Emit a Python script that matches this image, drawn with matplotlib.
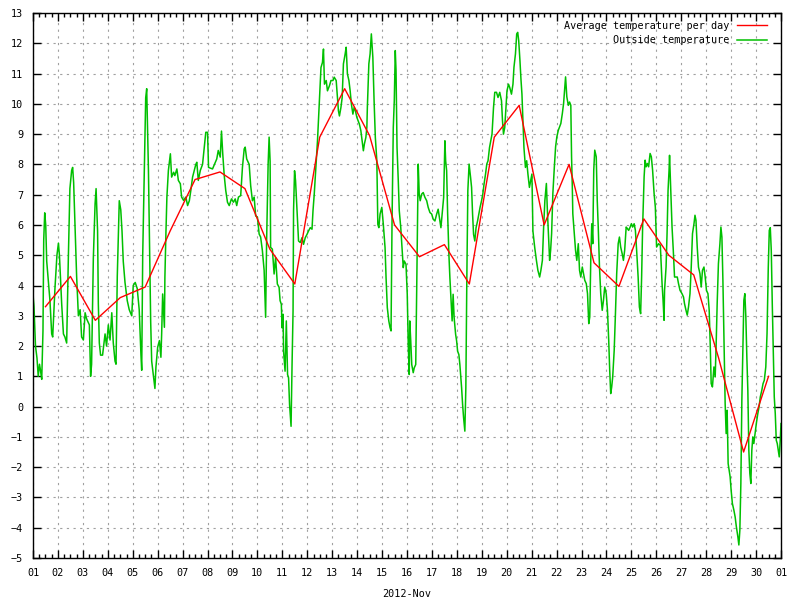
import matplotlib
matplotlib.use('Agg')
import matplotlib.pyplot as plt
from matplotlib.ticker import MultipleLocator

# time in days since 2012-11-01 00:00
outside_t = [
    0.00, 0.04, 0.10, 0.16, 0.21, 0.26, 0.30, 0.35, 0.40, 0.43, 0.47, 0.51, 0.55, 0.61, 0.68, 0.75,
    0.79, 0.88, 0.96, 1.02, 1.06, 1.15, 1.22, 1.28, 1.35, 1.42, 1.48, 1.55, 1.59, 1.63, 1.68, 1.75,
    1.82, 1.89, 1.95, 2.02, 2.09, 2.15, 2.26, 2.31, 2.35, 2.42, 2.49, 2.53, 2.59, 2.62, 2.66, 2.71,
    2.79, 2.89, 2.95, 3.02, 3.09, 3.16, 3.22, 3.29, 3.33, 3.38, 3.46, 3.52, 3.57, 3.62, 3.69, 3.78,
    3.86, 3.96, 4.02, 4.10, 4.18, 4.26, 4.33, 4.36, 4.40, 4.47, 4.52, 4.56, 4.63, 4.67, 4.72, 4.76,
    4.83, 4.89,
    4.93, 5.00, 5.07, 5.13, 5.16, 5.20, 5.27, 5.29, 5.33, 5.37, 5.43, 5.51, 5.56, 5.64, 5.69, 5.77,
    5.83, 5.91, 5.96, 6.04, 6.13, 6.20, 6.27, 6.33, 6.40, 6.47, 6.53, 6.57, 6.63, 6.71, 6.80, 6.87,
    6.93, 7.00, 7.04, 7.20, 7.37, 7.43, 7.51, 7.56, 7.61, 7.67, 7.73, 7.80, 7.87, 7.96, 8.04, 8.11,
    8.17, 8.24, 8.33, 8.40, 8.47, 8.51, 8.57, 8.67, 8.73, 8.80, 8.87, 8.93, 9.00, 9.07, 9.13, 9.20,
    9.27, 9.33, 9.37, 9.43, 9.47, 9.51, 9.53, 9.60, 9.67, 9.73, 9.80, 9.87, 9.91,
    9.96, 9.99, 10.03, 10.05, 10.11, 10.16, 10.19, 10.21, 10.25, 10.29, 10.35, 10.39, 10.43, 10.45,
    10.49, 10.53, 10.59, 10.65, 10.72, 10.79, 10.85, 10.92, 10.99, 11.05, 11.12, 11.19, 11.23, 11.28,
    11.35, 11.41, 11.48, 11.55, 11.61, 11.65, 11.69, 11.76, 11.81, 11.89, 11.95, 12.03, 12.08, 12.16,
    12.21, 12.25, 12.29, 12.35, 12.40, 12.45, 12.52, 12.56, 12.61, 12.67, 12.72, 12.77, 12.83, 12.88,
    12.93, 12.99, 13.04, 13.09, 13.15, 13.20, 13.25, 13.29, 13.35, 13.39, 13.41, 13.47, 13.52, 13.57,
    13.63, 13.68, 13.73, 13.79, 13.83, 13.87, 13.92, 13.99, 14.05, 14.12, 14.16, 14.21, 14.27, 14.32,
    14.36, 14.40, 14.45, 14.49, 14.53, 14.56, 14.60, 14.65, 14.69, 14.75, 14.80, 14.85, 14.89, 14.96,
    15.01, 15.05, 15.09,
    15.11, 15.15, 15.19, 15.25, 15.29, 15.35, 15.39, 15.43, 15.45, 15.49, 15.53, 15.59, 15.65, 15.72,
    15.79, 15.85, 15.92, 15.99, 16.05, 16.12, 16.19, 16.25, 16.32, 16.36, 16.41, 16.47, 16.52, 16.55,
    16.59, 16.63, 16.68, 16.72, 16.76, 16.81, 16.85, 16.89, 16.95, 16.99, 17.03, 17.08, 17.12, 17.19,
    17.23, 17.27, 17.32, 17.36, 17.40, 17.44, 17.49, 17.55, 17.59, 17.63, 17.67, 17.72, 17.77, 17.83,
    17.88, 17.93, 17.99, 18.04, 18.09, 18.15, 18.20, 18.25, 18.31, 18.36, 18.41, 18.47, 18.52, 18.59,
    18.65, 18.72, 18.79, 18.83, 18.87, 18.92, 18.96, 19.01, 19.07, 19.12, 19.19, 19.25, 19.29, 19.35,
    19.40, 19.44, 19.48, 19.53, 19.57, 19.61, 19.65, 19.69, 19.75, 19.80, 19.85, 19.91, 19.96, 20.01,
    20.05,
    20.12, 20.19, 20.25, 20.32, 20.37, 20.43, 20.48, 20.53, 20.59, 20.63, 20.67, 20.72, 20.76, 20.80,
    20.85, 20.91, 20.96, 21.01, 21.07, 21.12, 21.17, 21.23, 21.28, 21.32, 21.36, 21.41, 21.47, 21.52,
    21.57, 21.60, 21.63, 21.65, 21.71, 21.76, 21.81, 21.87, 21.92, 21.97, 22.03, 22.08, 22.13, 22.19,
    22.24, 22.29, 22.33, 22.37, 22.41, 22.45, 22.49, 22.53, 22.59, 22.63, 22.67, 22.72, 22.77, 22.83,
    22.88, 22.93, 22.99, 23.04, 23.09, 23.13, 23.17, 23.21, 23.25, 23.31, 23.36, 23.41, 23.47, 23.52,
    23.57, 23.63, 23.68, 23.73, 23.79, 23.84, 23.89, 23.95, 24.00, 24.05, 24.11, 24.16, 24.21, 24.27,
    24.32, 24.37, 24.41, 24.45, 24.51, 24.55, 24.59, 24.64, 24.69, 24.75, 24.80, 24.85, 24.91, 24.96,
    25.01,
    25.09, 25.16, 25.23, 25.27, 25.31, 25.33, 25.39, 25.43, 25.47, 25.51, 25.53, 25.57, 25.63, 25.68,
    25.73, 25.79, 25.84, 25.89, 25.95, 26.03, 26.09, 26.13, 26.19, 26.24, 26.29, 26.35, 26.40, 26.45,
    26.51, 26.55, 26.59, 26.64, 26.69, 26.75, 26.80, 26.85, 26.91, 26.96, 27.01, 27.07, 27.12, 27.16,
    27.20, 27.25, 27.31, 27.36, 27.40, 27.44, 27.49, 27.55, 27.59, 27.63, 27.67, 27.71, 27.76, 27.80,
    27.84, 27.88, 27.92, 27.96, 28.00, 28.05, 28.11, 28.16, 28.21, 28.27, 28.31, 28.35, 28.39, 28.43,
    28.47, 28.51, 28.55, 28.59, 28.63, 28.67, 28.71, 28.75, 28.79, 28.83, 28.87, 28.91, 28.96, 29.01,
    29.07, 29.12, 29.17, 29.23, 29.28, 29.33, 29.39, 29.44, 29.49, 29.53, 29.57, 29.61, 29.65, 29.69,
    29.73, 29.77, 29.81, 29.85, 29.89, 29.93, 29.97, 30.00,
]

outside_temp = [
    3.7, 3.3, 2.0, 1.6, 1.0, 1.4, 1.2, 0.9, 2.5, 5.5, 6.4, 6.0, 4.8, 4.2, 3.5, 2.4,
    2.3, 3.9, 5.0, 5.4, 5.0, 3.4, 2.4, 2.3, 2.1, 5.0, 7.2, 7.8, 7.9, 7.4, 6.1, 4.3,
    3.0, 3.2, 2.3, 2.2, 3.1, 2.9, 2.7, 1.0, 1.4, 4.9, 6.7, 7.2, 5.8, 3.4, 2.1, 1.7,
    1.7, 2.4, 2.0, 2.7, 2.2, 3.1, 2.1, 1.5, 1.4, 4.3, 6.8, 6.5, 5.8, 4.8, 4.1, 3.5,
    3.2, 3.0, 4.0, 4.1, 3.9, 3.2, 1.7, 1.2, 5.0, 8.1, 10.2, 10.5, 7.8, 5.6, 2.8, 1.5,
    1.0, 0.6,
    1.3, 1.96, 2.18, 1.63, 2.4, 3.72, 2.62, 4.27, 5.7, 6.92, 7.8, 8.35, 7.58, 7.74, 7.63, 7.85,
    7.47, 7.36, 6.92, 6.81, 6.92, 6.64, 6.8, 7.14, 7.58, 7.8, 8.0, 8.07, 7.47, 7.8, 8.0, 8.57,
    9.06, 9.06, 7.9, 7.85, 8.18, 8.46, 8.24, 9.1, 8.35, 7.63, 7.14, 6.75, 6.64, 6.86, 6.75, 6.86,
    6.64, 6.92, 6.97, 7.9, 8.51, 8.57, 8.18, 8.0, 7.3, 6.8, 6.92, 6.3, 6.26, 5.7, 5.6, 5.15,
    4.5, 2.95, 5.5, 8.0, 8.9, 8.1, 5.26, 5.2, 4.38, 4.93, 4.05, 3.94, 3.5,
    3.38, 2.6, 3.05, 1.83, 1.17, 2.83, 1.72, 1.06, 0.95, 0.07, -0.65, 1.39, 3.16, 6.47,
    7.79, 7.46, 6.47, 5.47, 5.42, 5.58, 5.36, 5.58, 5.69, 5.8, 5.91, 5.86, 6.47, 7.02,
    8.0, 8.78, 9.99, 11.2, 11.37, 11.81, 10.65, 10.77, 10.43, 10.6, 10.77, 10.77, 10.88, 10.77,
    10.21, 9.77, 9.6, 9.88, 10.21, 11.32, 11.65, 11.87, 10.99, 10.77, 10.43, 9.99, 9.66, 9.88,
    9.77, 9.55, 9.44, 9.33, 9.11, 8.78, 8.45, 8.67, 8.89, 9.22, 9.88, 11.32, 11.65, 12.31,
    11.54, 10.1, 8.89, 8.12, 6.02, 5.91, 6.36, 6.58, 6.02, 5.25, 4.26, 3.27, 2.83, 2.61,
    2.5, 6.13, 9.22, 10.1, 11.76, 11.1, 8.56, 7.46, 6.47, 5.91, 5.25, 4.59, 4.81, 4.7,
    3.71, 2.06, 1.06,
    2.83, 2.17, 1.39, 1.12, 1.28, 1.39, 3.93, 6.8, 8.01, 7.02, 6.8, 7.02, 7.07, 6.91,
    6.8, 6.58, 6.41, 6.36, 6.19, 6.13, 6.36, 6.52, 6.13, 5.91, 6.36, 6.91, 8.78, 8.12,
    7.79, 6.36, 5.03, 4.26, 3.6, 2.83, 3.71, 2.94, 2.39, 2.17, 1.83, 1.72, 1.39, 0.62,
    0.07, -0.37, -0.81, 0.62, 4.26, 7.13, 8.01, 7.57, 7.24, 6.36, 5.69, 5.47, 5.91, 6.13,
    6.36, 6.58, 6.8, 7.02, 7.35, 7.68, 8.01, 8.12, 8.56, 8.78, 9.0, 9.88, 10.38, 10.38,
    10.21, 10.38, 10.1, 9.44, 9.0, 9.22, 9.77, 10.43, 10.65, 10.54, 10.32, 10.65, 11.21, 11.65,
    12.31, 12.36, 12.09, 11.43, 10.82, 10.32, 9.44, 8.56, 7.9, 8.12, 7.68, 7.24, 7.46, 7.68,
    5.8,
    5.27, 4.83, 4.5, 4.28, 4.5, 4.83, 5.93, 6.81, 7.37, 6.48, 5.71, 4.83, 5.16, 5.71,
    7.04, 7.92, 8.58, 8.91, 9.13, 9.24, 9.35, 9.68, 10.01, 10.45, 10.89, 10.23, 9.95, 10.06,
    9.95, 8.25, 7.26, 6.37, 5.71, 5.16, 4.83, 5.38, 4.5, 4.28, 4.61, 4.39, 4.17, 4.06,
    3.73, 2.74, 2.96, 4.83, 6.04, 5.38, 7.81, 8.47, 8.25, 6.81, 5.93, 4.61, 3.73, 3.18,
    3.51, 3.95, 3.73, 3.18, 2.19, 1.2, 0.43, 0.65, 0.98, 1.86, 3.07, 4.39, 5.38, 5.6,
    5.27, 5.05, 4.83, 5.16, 5.93, 5.88, 5.82, 5.93, 6.04, 5.93, 6.04, 5.82, 5.16, 4.28,
    3.29, 3.07, 4.28, 5.93, 7.59, 8.14, 7.92, 8.03, 7.92, 8.36, 8.25, 7.81, 7.04, 6.59,
    5.27,
    5.38, 5.33, 4.06, 3.51, 2.85, 3.84, 4.61, 5.71, 7.14, 7.8, 8.3, 7.36, 5.93, 5.16,
    4.28, 4.28, 4.28, 4.06, 3.84, 3.73, 3.62, 3.4, 3.18, 3.02, 3.29, 3.73, 4.61, 5.71,
    6.04, 6.32, 6.15, 5.27, 4.61, 4.39, 3.95, 4.5, 4.61, 4.28, 3.84, 3.73, 3.18, 2.08,
    0.76, 0.65, 1.31, 0.98, 2.08, 3.4, 4.72, 5.38, 5.93, 5.6, 4.17, 2.41, 0.1, -0.89,
    -0.12, -1.88, -2.1, -2.32, -2.76, -3.2, -3.42, -3.64, -3.97, -4.3, -4.57, -4.08, -2.54, 0.21,
    1.86, 3.51, 3.73, 2.96, 1.64, 0.54, -1.44, -2.21, -2.54, -1.44, -1.0, -1.22, -0.89, -0.56,
    -0.23, -0.01, 0.32, 0.54, 0.76, 0.87, 1.31, 2.41, 4.61, 5.82, 5.91, 5.16, 3.4, 1.86,
    0.32, -0.23, -1.11, -1.22, -1.44, -1.66, -1.11, -0.56,
]

# daily averages, plotted at midday
avg_days = list(range(1, 31))
avg_temp = [3.3, 4.3, 2.85, 3.6, 3.95, 5.8, 7.5, 7.75, 7.2, 5.2,
            4.05, 8.9, 10.5, 8.95, 6.0, 4.95, 5.35, 4.05, 8.9, 9.95,
            6.0, 8.0, 4.75, 3.97, 6.2, 5.0, 4.35, 1.6, -1.5, 1.0]

day_labels = ['%02d' % d for d in range(1, 31)] + ['01']


def main():
    plt.rcParams['font.family'] = ['DejaVu Sans Mono']
    fs = 7.3
    fig = plt.figure(figsize=(8, 6), dpi=100)
    ax = fig.add_axes([33 / 800, 42 / 600, 748 / 800, 545 / 600])

    avg_x = [d - 0.5 for d in avg_days]
    ax.plot(avg_x, avg_temp, color='#ff0000', lw=1.0, label='Average temperature per day', zorder=3)
    ax.plot(outside_t, outside_temp, color='#00c000', lw=1.1, label='Outside temperature', zorder=2)

    ax.set_xlim(0, 30)
    ax.set_ylim(-5, 13)
    ax.set_xticks(range(31))
    ax.set_xticklabels(day_labels)
    ax.xaxis.set_minor_locator(MultipleLocator(0.25))
    ax.set_yticks(range(-5, 14))
    ax.tick_params(which='both', direction='in', top=True, right=True, labelsize=fs, colors='black')
    ax.tick_params(which='major', length=6, width=1, pad=7)
    ax.tick_params(which='minor', length=3, width=1)
    ax.grid(True, which='major', color='#a0a0a0', linestyle=(0, (2, 4)), linewidth=0.8)
    for s in ax.spines.values():
        s.set_linewidth(1)
        s.set_color('black')

    ax.set_xlabel('2012-Nov', fontsize=fs, labelpad=8)

    leg = ax.legend(loc='upper right', bbox_to_anchor=(0.99, 0.997), frameon=False, markerfirst=False,
                    fontsize=fs, handlelength=3.0, handletextpad=0.8, labelspacing=0.45,
                    borderaxespad=0.2)
    for t in leg.get_texts():
        t.set_ha('right')

    fig.savefig('out.png', dpi=100)
    return 0


if __name__ == '__main__':
    main()
